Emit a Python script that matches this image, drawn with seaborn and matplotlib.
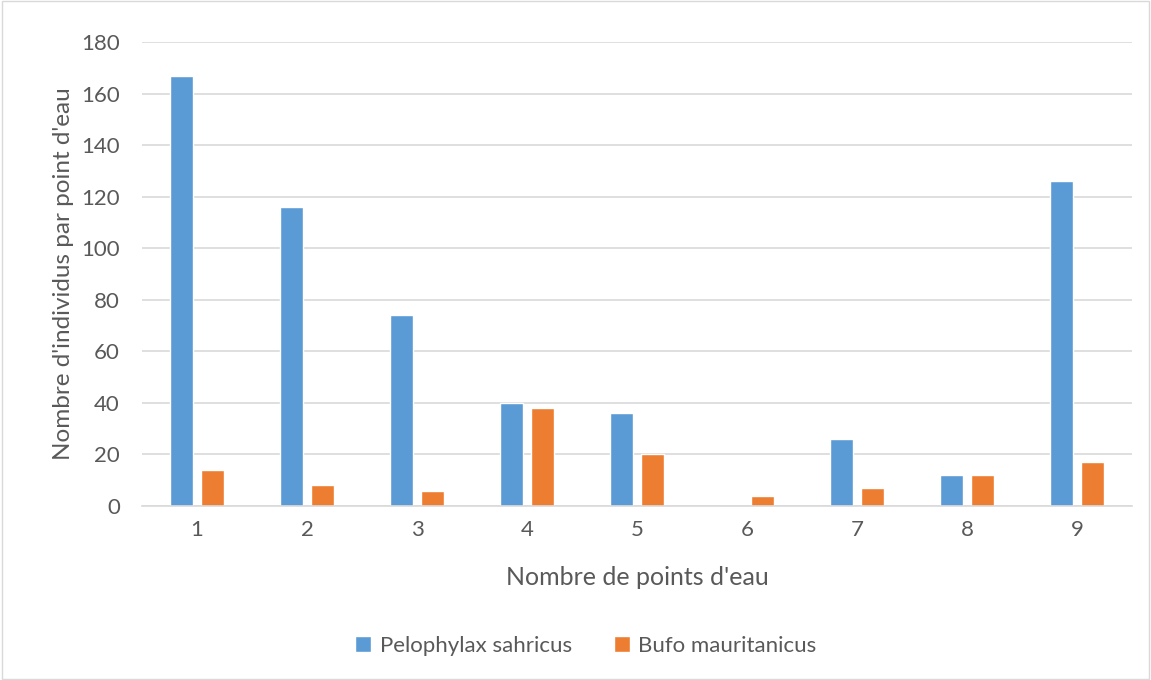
import pandas as pd
import matplotlib.pyplot as plt
import seaborn as sns
from matplotlib.patches import Rectangle

# ================= DATA =================
points = ["1", "2", "3", "4", "5", "6", "7", "8", "9"]
pelophylax = [167, 116, 74, 40, 36, 0, 26, 12, 126]
bufo = [14, 8, 6, 38, 20, 4, 7, 12, 17]
species = ["Pelophylax sahricus", "Bufo mauritanicus"]
colors = ["#5B9BD5", "#ED7D31"]

df = pd.DataFrame({
    "Point": points * 2,
    "Count": pelophylax + bufo,
    "Species": [species[0]] * len(points) + [species[1]] * len(points),
})

# ================= PLOTTING =================
sns.set_theme(style="white")
plt.rcParams['font.family'] = ['Lato', 'DejaVu Sans']
TEXT = "#595959"

fig = plt.figure(figsize=(11.51, 6.8), dpi=100)
ax = fig.add_axes([142 / 1151, 1 - 506 / 680, 990 / 1151, 464 / 680])

sns.barplot(data=df, x="Point", y="Count", hue="Species", palette=colors,
            width=0.56, gap=0.23, ax=ax, saturation=1, legend=True)

ax.set_ylim(0, 180)
ax.set_yticks(range(0, 181, 20))
ax.yaxis.grid(True, color="#d9d9d9", linewidth=1.2)
ax.set_axisbelow(True)
for s in ["top", "right", "left"]:
    ax.spines[s].set_visible(False)
ax.spines["bottom"].set_color("#d9d9d9")
ax.spines["bottom"].set_linewidth(1.2)
ax.tick_params(axis="x", length=0, labelsize=16, labelcolor=TEXT, pad=10)
ax.tick_params(axis="y", length=0, labelsize=16, labelcolor=TEXT, pad=16)

ax.set_xlabel("Nombre de points d'eau", fontsize=18, color=TEXT, labelpad=19)
ax.set_ylabel("Nombre d'individus par point d'eau", fontsize=17.5, color=TEXT, labelpad=5)

handles, labels = ax.get_legend_handles_labels()
ax.legend(handles, labels, loc="center", bbox_to_anchor=(0.5 + (586 - 637) / 990, -(646 - 506) / 464),
          ncol=2, frameon=False, fontsize=16, labelcolor=TEXT,
          handlelength=0.7, handleheight=0.7, handletextpad=0.4, columnspacing=1.9)

# light chart border
fig.patches.append(Rectangle((0.002, 0.002), 0.996, 0.996, transform=fig.transFigure,
                             fill=False, edgecolor="#d9d9d9", linewidth=1))

fig.savefig("out.png", dpi=100)
